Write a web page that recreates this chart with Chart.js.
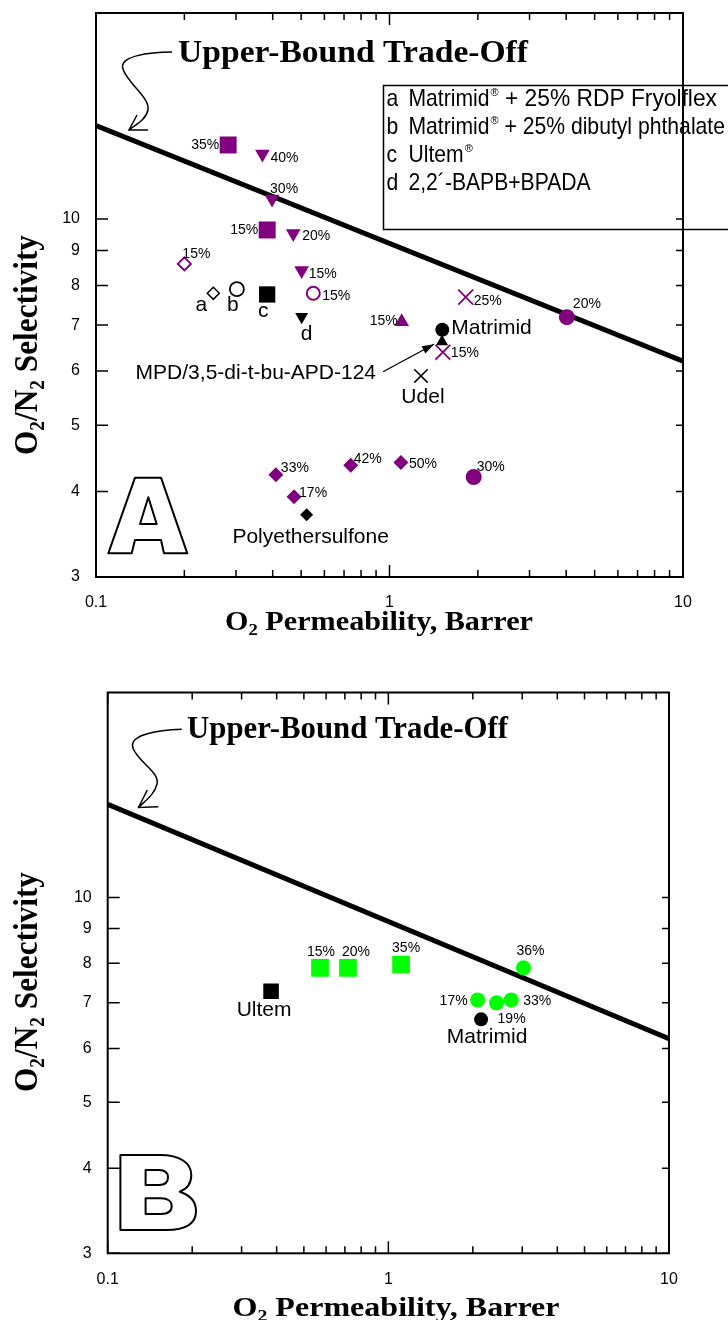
<!DOCTYPE html>
<html><head><meta charset="utf-8">
<script src="https://cdn.jsdelivr.net/npm/chart.js@4.4.1/dist/chart.umd.min.js"></script>
<style>
html,body{margin:0;padding:0;background:#fff;width:728px;height:1320px;overflow:hidden}
canvas{position:absolute;left:0}
#cA{top:0}#cB{top:660px}
</style></head><body>
<canvas id="cA" width="728" height="660"></canvas>
<canvas id="cB" width="728" height="660"></canvas>
<script>
// ---------------- DATA ----------------
const xTickValues = [0.1,0.2,0.3,0.4,0.5,0.6,0.7,0.8,0.9,1,2,3,4,5,6,7,8,9,10];
const xTickLabels = ['0.1','1','10'];
const yTickValues = [3,4,5,6,7,8,9,10];
const yTickLabels = ['3','4','5','6','7','8','9','10'];

// Robeson upper-bound line (end points)
const upperBoundP = [0.1, 10];
const upperBoundSel = [13.7, 6.2];

// Panel A — purple series
const aSquareP = [0.282, 0.383];
const aSquareSel = [12.83, 9.64];
const aSquareLbl = ['35%', '15%'];

const aTriDownP = [0.369, 0.398, 0.470, 0.502];
const aTriDownSel = [12.45, 10.7, 9.53, 8.41];
const aTriDownLbl = ['40%', '30%', '20%', '15%'];

const aOpenDiamondP = [0.2];
const aOpenDiamondSel = [8.6];
const aOpenDiamondLbl = ['15%'];

const aOpenCircleP = [0.55];
const aOpenCircleSel = [7.79];
const aOpenCircleLbl = ['15%'];

const aTriUpP = [1.10];
const aTriUpSel = [7.08];
const aTriUpLbl = ['15%'];

const aCrossP = [1.818, 1.52];
const aCrossSel = [7.69, 6.39];
const aCrossLbl = ['25%', '15%'];

const aCircleP = [4.02, 1.936];
const aCircleSel = [7.19, 4.2];
const aCircleLbl = ['20%', '30%'];

const aDiamondP = [0.41, 0.473, 0.738, 1.094];
const aDiamondSel = [4.23, 3.93, 4.37, 4.41];
const aDiamondLbl = ['33%', '17%', '42%', '50%'];

// Panel A — reference polymers (black)
const aRefNames = ['a', 'b', 'c', 'd', 'Matrimid', 'MPD/3,5-di-t-bu-APD-124', 'Udel', 'Polyethersulfone'];
const aRefP = [0.251, 0.302, 0.383, 0.502, 1.513, 1.51, 1.28, 0.522];
const aRefSel = [7.79, 7.9, 7.76, 7.2, 6.89, 6.62, 5.9, 3.7];

// Panel A legend
const legendKeys = ['a', 'b', 'c', 'd'];
const legendNames = ['Matrimid', 'Matrimid', 'Ultem', '2,2\u00B4-BAPB+BPADA'];
const legendReg = [true, true, true, false];
const legendSuffix = [' + 25% RDP Fryolflex', ' + 25% dibutyl phthalate', '', ''];

// Panel B — green series
const bSquareP = [0.571, 0.718, 1.11];
const bSquareSel = [7.88, 7.88, 7.97];
const bSquareLbl = ['15%', '20%', '35%'];

const bCircleP = [2.08, 2.43, 2.74, 3.03];
const bCircleSel = [7.07, 7.0, 7.07, 7.88];
const bCircleLbl = ['17%', '19%', '33%', '36%'];

const bRefNames = ['Ultem', 'Matrimid'];
const bRefP = [0.382, 2.14];
const bRefSel = [7.28, 6.62];

// ---------------- STYLE ----------------
const PURPLE = '#800080', GREEN = '#00ff00', BLACK = '#000000';
const SANS = '"Liberation Sans", Arial, Helvetica, sans-serif';
const SERIF = '"Liberation Serif", "Times New Roman", Times, serif';

// label placement offsets (px from marker): [dx, dy, align, fontSize, arrow]
const posASquare = [[-9, 0, 'right'], [-9, 0, 'right']];
const posATriDown = [[8, 4, 'left'], [-2, -10, 'left'], [9, 3, 'left'], [7, 4, 'left']];
const posAOpenDiamond = [[-2, -10, 'left']];
const posAOpenCircle = [[9, 3, 'left']];
const posATriUp = [[-4, -1, 'right']];
const posACross = [[8, 4, 'left'], [8, 1, 'left']];
const posACircle = [[6, -13, 'left'], [3, -10, 'left']];
const posADiamond = [[5, -7, 'left'], [5, -4, 'left'], [3, -6, 'left'], [8, 2, 'left']];
const posARef = [[-12, 12, 'center', 21], [-4, 16, 'center', 21], [-4, 16.5, 'center', 21], [5, 17.5, 'center', 21],
                 [9, -2, 'left', 21], [-66, 32, 'right', 21, [-59, 30, -8, 2.5]], [2, 21, 'center', 21], [4, 22.5, 'center', 21]];
const posBSquare = [[1, -16, 'center'], [8, -16, 'center'], [5, -16, 'center']];
const posBCircle = [[-10, 1, 'right'], [1, 16.5, 'left'], [12, 1, 'left'], [7, -17, 'center']];
const posBRef = [[-7, 19, 'center', 21], [6, 17.5, 'center', 21]];

// legend row right ends (layout)
const legendRowEnd = [717, 725, null, null];

function pts(xs, ys) { return xs.map((x, i) => ({x: x, y: ys[i]})); }

function lineDataset() {
  return {data: pts(upperBoundP, upperBoundSel), showLine: true, borderColor: BLACK, borderWidth: 5,
          pointRadius: 0, fill: false, tension: 0};
}

function mk(data, labels, pos, st) {
  return Object.assign({data: data, pointLabels: labels, labelPos: pos, showLine: false,
    pointBorderWidth: 0, pointRotation: 0}, st);
}

// ---------------- PLUGINS ----------------
const labelPlugin = {
  id: 'pointLabels',
  afterDatasetsDraw(chart) {
    const ctx = chart.ctx;
    chart.data.datasets.forEach((ds, di) => {
      if (!ds.pointLabels) return;
      const meta = chart.getDatasetMeta(di);
      ds.pointLabels.forEach((txt, i) => {
        const pt = meta.data[i], lp = ds.labelPos[i];
        if (!pt || !lp) return;
        ctx.save();
        ctx.font = (lp[3] || 14) + 'px ' + SANS;
        ctx.fillStyle = BLACK;
        ctx.textAlign = lp[2];
        ctx.textBaseline = 'middle';
        ctx.fillText(txt, pt.x + lp[0], pt.y + lp[1]);
        if (lp[4]) {
          const a = lp[4];
          const x1 = pt.x + a[0], y1 = pt.y + a[1], x2 = pt.x + a[2], y2 = pt.y + a[3];
          ctx.strokeStyle = BLACK; ctx.lineWidth = 1.3;
          ctx.beginPath(); ctx.moveTo(x1, y1); ctx.lineTo(x2, y2); ctx.stroke();
          const ang = Math.atan2(y2 - y1, x2 - x1), L = 12, W = 4;
          ctx.beginPath();
          ctx.moveTo(x2, y2);
          ctx.lineTo(x2 - L * Math.cos(ang) + W * Math.sin(ang), y2 - L * Math.sin(ang) - W * Math.cos(ang));
          ctx.lineTo(x2 - L * Math.cos(ang) - W * Math.sin(ang), y2 - L * Math.sin(ang) + W * Math.cos(ang));
          ctx.closePath(); ctx.fill();
        }
        ctx.restore();
      });
    });
  }
};

function drawFrame(chart) {
  const ctx = chart.ctx, a = chart.chartArea, xs = chart.scales.x, ys = chart.scales.y;
  ctx.save();
  ctx.strokeStyle = BLACK;
  ctx.lineWidth = 2;
  ctx.strokeRect(a.left, a.top, a.right - a.left, a.bottom - a.top);
  ctx.lineWidth = 1.5;
  ctx.beginPath();
  xTickValues.forEach(v => {
    const px = xs.getPixelForValue(v);
    const len = xTickLabels.includes(String(v)) ? 12 : 7;
    ctx.moveTo(px, a.bottom); ctx.lineTo(px, a.bottom - len);
    ctx.moveTo(px, a.top); ctx.lineTo(px, a.top + len);
  });
  yTickValues.forEach(v => {
    const py = ys.getPixelForValue(v);
    ctx.moveTo(a.left, py); ctx.lineTo(a.left + 12, py);
    ctx.moveTo(a.right, py); ctx.lineTo(a.right - 7, py);
  });
  ctx.stroke();
  ctx.restore();
}

function drawRich(ctx, parts, cx, base, size, family, targetW, rotate) {
  ctx.save();
  const fonts = parts.map(p => 'bold ' + (p[1] ? size * 0.62 : size) + 'px ' + family);
  const widths = parts.map((p, i) => { ctx.font = fonts[i]; return ctx.measureText(p[0]).width; });
  const W = widths.reduce((s, w) => s + w, 0);
  const sx = targetW ? targetW / W : 1;
  ctx.translate(cx, base);
  if (rotate) ctx.rotate(-Math.PI / 2);
  ctx.scale(sx, 1);
  ctx.fillStyle = BLACK; ctx.textAlign = 'left'; ctx.textBaseline = 'alphabetic';
  let x = -W / 2;
  parts.forEach((p, i) => {
    ctx.font = fonts[i];
    ctx.fillText(p[0], x, p[1] ? size * 0.2 : 0);
    x += widths[i];
  });
  ctx.restore();
}

function drawScaled(ctx, text, x, y, font, sx) {
  ctx.save();
  ctx.font = font;
  const w = ctx.measureText(text).width;
  ctx.translate(x, y); ctx.scale(sx, 1);
  ctx.fillText(text, 0, 0);
  ctx.restore();
  return w * sx;
}

function textWidth(ctx, text, font) {
  ctx.save(); ctx.font = font; const w = ctx.measureText(text).width; ctx.restore(); return w;
}

// outline panel letters (decorative glyph outlines)
function outlineA(ctx) {
  ctx.beginPath();
  ctx.moveTo(108.3, 553.3); ctx.lineTo(135, 477.7); ctx.lineTo(161, 477.7); ctx.lineTo(187.3, 553.3);
  ctx.lineTo(164, 553.3); ctx.lineTo(161, 540); ctx.lineTo(135, 540); ctx.lineTo(131.7, 553.3);
  ctx.closePath();
  ctx.moveTo(148.3, 497.3); ctx.lineTo(140, 524); ctx.lineTo(156.7, 524); ctx.closePath();
  ctx.stroke();
}
function outlineB(ctx) {
  ctx.beginPath();
  ctx.moveTo(120.4, 495); ctx.lineTo(160, 495);
  ctx.bezierCurveTo(180, 495, 191.3, 503, 191.3, 515);
  ctx.bezierCurveTo(191.3, 523, 187, 529, 179.7, 531.7);
  ctx.bezierCurveTo(190, 535, 196, 542, 196, 551);
  ctx.bezierCurveTo(196, 563, 186, 570, 166, 570);
  ctx.lineTo(120.4, 570); ctx.closePath();
  ctx.moveTo(145.6, 510); ctx.lineTo(159, 510);
  ctx.bezierCurveTo(165, 510, 168, 513, 168, 517.5);
  ctx.bezierCurveTo(168, 522, 165, 525, 159, 525);
  ctx.lineTo(145.6, 525); ctx.closePath();
  ctx.moveTo(145.6, 538.3); ctx.lineTo(161, 538.3);
  ctx.bezierCurveTo(168, 538.3, 171.7, 541.5, 171.7, 546);
  ctx.bezierCurveTo(171.7, 551, 168, 554, 161, 554);
  ctx.lineTo(145.6, 554); ctx.closePath();
  ctx.stroke();
}

const xTitleParts = [['O', false], ['2', true], [' Permeability, Barrer', false]];
const yTitleParts = [['O', false], ['2', true], ['/N', false], ['2', true], [' Selectivity', false]];
const boundText = 'Upper-Bound Trade-Off';

function decorPlugin(cfg) {
  return {
    id: 'decor' + cfg.letter,
    beforeDatasetsDraw(chart) { drawFrame(chart); },
    afterDraw(chart) {
      const ctx = chart.ctx;
      ctx.save();
      ctx.fillStyle = BLACK; ctx.strokeStyle = BLACK;
      // axis titles
      drawRich(ctx, xTitleParts, cfg.xTitle[0], cfg.xTitle[1], cfg.xTitle[2], SERIF, cfg.xTitle[3], false);
      drawRich(ctx, yTitleParts, cfg.yTitle[0], cfg.yTitle[1], cfg.yTitle[2], SERIF, cfg.yTitle[3], true);
      // upper bound label
      ctx.save();
      ctx.font = 'bold ' + cfg.bound[2] + 'px ' + SERIF;
      const bw = ctx.measureText(boundText).width;
      ctx.translate(cfg.bound[0], cfg.bound[1]);
      ctx.scale(cfg.bound[3] / bw, 1);
      ctx.textBaseline = 'alphabetic'; ctx.textAlign = 'left';
      ctx.fillText(boundText, 0, 0);
      ctx.restore();
      // curly arrow
      const c = cfg.curl;
      ctx.lineWidth = 1.5;
      ctx.beginPath();
      ctx.moveTo(c[0], c[1]);
      ctx.bezierCurveTo(c[2], c[3], c[4], c[5], c[6], c[7]);
      ctx.bezierCurveTo(c[8], c[9], c[10], c[11], c[12], c[13]);
      ctx.bezierCurveTo(c[14], c[15], c[16], c[17], c[18], c[19]);
      ctx.stroke();
      ctx.beginPath();
      ctx.moveTo(c[20], c[21]); ctx.lineTo(c[18], c[19]); ctx.lineTo(c[22], c[23]);
      ctx.stroke();
      // big outline letter
      ctx.lineWidth = 2;
      ctx.lineJoin = 'round';
      cfg.outline(ctx);
      ctx.lineJoin = 'miter';
      // legend
      if (cfg.legend) {
        const L = cfg.legend;
        ctx.lineWidth = 1.5;
        ctx.strokeRect(L.x, L.y, 400, L.h);
        const f = '24px ' + SANS;
        legendKeys.forEach((k, i) => {
          const by = L.rows[i];
          drawScaled(ctx, k, L.x + 3, by, f, 0.88);
          let x = L.x + 25;
          x += drawScaled(ctx, legendNames[i], x, by, f, 0.88);
          if (legendReg[i]) {
            x += drawScaled(ctx, '\u00AE', x + 1, by - 10, '11px ' + SANS, 1) + 1;
          }
          if (legendSuffix[i]) {
            let sx = 0.88;
            if (legendRowEnd[i]) sx = (legendRowEnd[i] - x) / textWidth(ctx, legendSuffix[i], f);
            drawScaled(ctx, legendSuffix[i], x, by, f, sx);
          }
        });
      }
      ctx.restore();
    }
  };
}

function zeroPad(s) { s.paddingTop = 0; s.paddingBottom = 0; s.paddingLeft = 0; s.paddingRight = 0; }

function makeOptions(lay) {
  return {
    responsive: false, animation: false, events: [],
    layout: {autoPadding: false, padding: {left: 0, top: lay.top, right: lay.right, bottom: 0}},
    plugins: {legend: {display: false}, tooltip: {enabled: false}},
    scales: {
      x: {
        type: 'logarithmic', position: 'bottom', min: 0.1, max: 10,
        grid: {display: false, drawTicks: false}, border: {display: false},
        afterBuildTicks: s => { s.ticks = xTickValues.map(v => ({value: v})); },
        afterFit: s => { s.height = lay.xHeight; zeroPad(s); },
        ticks: {autoSkip: false, maxRotation: 0, minRotation: 0, padding: lay.xPad, color: BLACK,
                font: {family: SANS, size: 16},
                callback: v => xTickLabels.includes(String(v)) ? String(v) : ''}
      },
      y: {
        type: 'logarithmic', position: 'left', min: 3, max: 20,
        grid: {display: false, drawTicks: false}, border: {display: false},
        afterBuildTicks: s => { s.ticks = yTickValues.map(v => ({value: v})); },
        afterFit: s => { s.width = lay.yWidth; zeroPad(s); },
        ticks: {autoSkip: false, padding: 16, color: BLACK, font: {family: SANS, size: 16},
                callback: v => yTickLabels.includes(String(v)) ? String(v) : ''}
      }
    }
  };
}

// ---------------- PANEL A ----------------
const refAStyle = {
  pointStyle: ['rectRot', 'circle', 'rect', 'triangle', 'circle', 'triangle', 'crossRot', 'rectRot'],
  pointRadius: [6, 7, 11.5, 7.5, 7, 7, 9.5, 6.5],
  pointRotation: [0, 0, 0, 180, 0, 0, 0, 0],
  pointBackgroundColor: ['#ffffff', '#ffffff', BLACK, BLACK, BLACK, BLACK, BLACK, BLACK],
  pointBorderColor: BLACK,
  pointBorderWidth: [1.5, 1.8, 0, 0, 0, 0, 1.5, 0]
};

new Chart(document.getElementById('cA'), {
  type: 'scatter',
  data: {datasets: [
    mk(pts(aRefP, aRefSel), aRefNames, posARef, refAStyle),
    mk(pts(aSquareP, aSquareSel), aSquareLbl, posASquare, {pointStyle: 'rect', pointRadius: 12, pointBackgroundColor: PURPLE, pointBorderColor: PURPLE}),
    mk(pts(aTriDownP, aTriDownSel), aTriDownLbl, posATriDown, {pointStyle: 'triangle', pointRotation: 180, pointRadius: 8.5, pointBackgroundColor: PURPLE, pointBorderColor: PURPLE}),
    mk(pts(aOpenDiamondP, aOpenDiamondSel), aOpenDiamondLbl, posAOpenDiamond, {pointStyle: 'rectRot', pointRadius: 6.5, pointBackgroundColor: '#ffffff', pointBorderColor: PURPLE, pointBorderWidth: 2}),
    mk(pts(aOpenCircleP, aOpenCircleSel), aOpenCircleLbl, posAOpenCircle, {pointStyle: 'circle', pointRadius: 6.5, pointBackgroundColor: '#ffffff', pointBorderColor: PURPLE, pointBorderWidth: 2}),
    mk(pts(aTriUpP, aTriUpSel), aTriUpLbl, posATriUp, {pointStyle: 'triangle', pointRadius: 8.5, pointBackgroundColor: PURPLE, pointBorderColor: PURPLE}),
    mk(pts(aCrossP, aCrossSel), aCrossLbl, posACross, {pointStyle: 'crossRot', pointRadius: 10.5, pointBackgroundColor: PURPLE, pointBorderColor: PURPLE, pointBorderWidth: 1.8}),
    mk(pts(aCircleP, aCircleSel), aCircleLbl, posACircle, {pointStyle: 'circle', pointRadius: 8, pointBackgroundColor: PURPLE, pointBorderColor: PURPLE}),
    mk(pts(aDiamondP, aDiamondSel), aDiamondLbl, posADiamond, {pointStyle: 'rectRot', pointRadius: 7.5, pointBackgroundColor: PURPLE, pointBorderColor: PURPLE}),
    lineDataset()
  ]},
  options: makeOptions({top: 13, right: 45, xHeight: 83, yWidth: 96, xPad: 16}),
  plugins: [labelPlugin, decorPlugin({
    letter: 'A', outline: outlineA,
    xTitle: [379, 629.5, 27, 308], yTitle: [37, 345, 33, 220],
    bound: [178, 62, 31, 350],
    curl: [172, 52, 150, 52, 118, 56, 123, 69, 127, 83, 150, 97, 148, 110, 146, 120, 135, 125, 129, 130, 137, 115, 148, 130],
    legend: {x: 383.5, y: 85.5, h: 144, rows: [106, 134, 162, 190]}
  })]
});

// ---------------- PANEL B ----------------
const refBStyle = {
  pointStyle: ['rect', 'circle'],
  pointRadius: [11, 7],
  pointBackgroundColor: BLACK, pointBorderColor: BLACK
};

new Chart(document.getElementById('cB'), {
  type: 'scatter',
  data: {datasets: [
    mk(pts(bRefP, bRefSel), bRefNames, posBRef, refBStyle),
    mk(pts(bSquareP, bSquareSel), bSquareLbl, posBSquare, {pointStyle: 'rect', pointRadius: 12.5, pointBackgroundColor: GREEN, pointBorderColor: GREEN}),
    mk(pts(bCircleP, bCircleSel), bCircleLbl, posBCircle, {pointStyle: 'circle', pointRadius: 7.5, pointBackgroundColor: GREEN, pointBorderColor: GREEN}),
    lineDataset()
  ]},
  options: makeOptions({top: 32.5, right: 59, xHeight: 66.7, yWidth: 107.7, xPad: 17}),
  plugins: [labelPlugin, decorPlugin({
    letter: 'B', outline: outlineB,
    xTitle: [396, 656, 27, 327], yTitle: [37, 322, 33, 220],
    bound: [187, 78.3, 31, 321],
    curl: [181.7, 69.3, 160, 70, 128, 74, 133, 88, 137, 101, 160, 112, 157, 124, 155, 134, 145, 141, 138.5, 147.5, 147.3, 130, 158.3, 146.7]
  })]
});
</script>
</body></html>
